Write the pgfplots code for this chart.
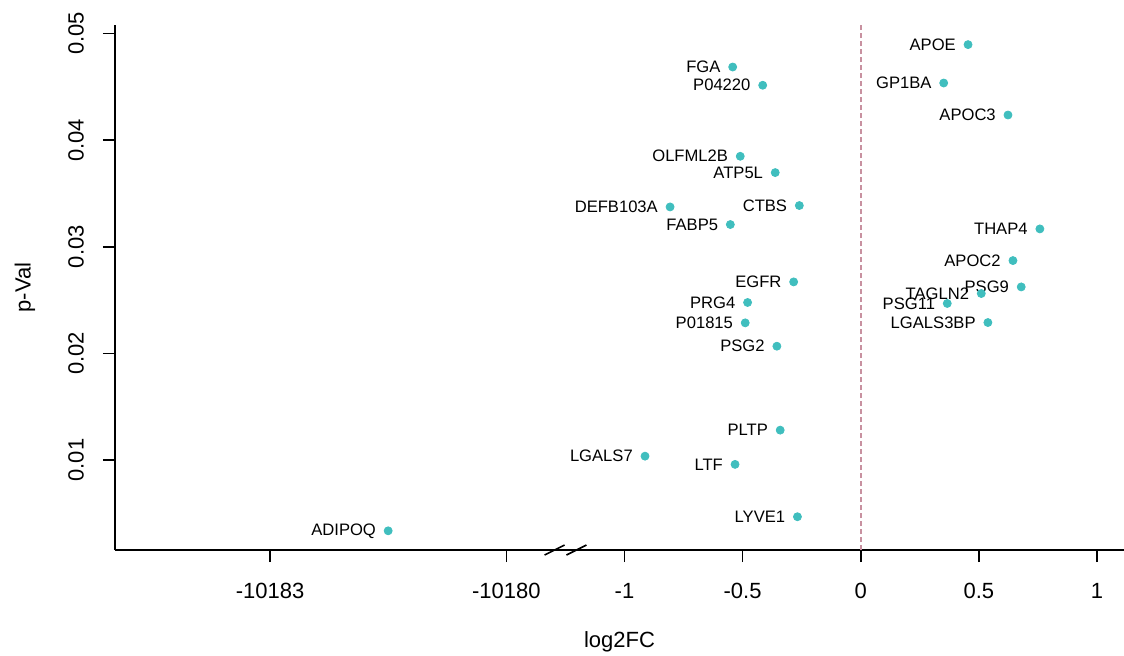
\documentclass[border=0pt]{standalone}
\usepackage{fontspec}
\setmainfont{Liberation Sans}
\usepackage{pgfplots}
\usepackage{pgfplotstable}
\pgfplotsset{compat=1.18}

\definecolor{dotcol}{RGB}{64,190,190}
\definecolor{zeroline}{RGB}{200,145,160}

% log2FC, p-value, gene
\pgfplotstableread{
x        p        name
-0.542   0.04686  FGA
-0.415   0.04515  P04220
-0.510   0.03849  OLFML2B
-0.362   0.03696  ATP5L
-0.807   0.03374  DEFB103A
-0.260   0.03387  CTBS
-0.552   0.03209  FABP5
-0.284   0.02671  EGFR
-0.479   0.02478  PRG4
-0.489   0.02287  P01815
-0.355   0.02068  PSG2
-0.341   0.01281  PLTP
-0.913   0.01037  LGALS7
-0.532   0.00960  LTF
-0.268   0.00469  LYVE1
-10181.5 0.00337  ADIPOQ
0.454    0.04896  APOE
0.351    0.04536  GP1BA
0.623    0.04236  APOC3
0.758    0.03168  THAP4
0.644    0.02871  APOC2
0.679    0.02624  PSG9
0.510    0.02562  TAGLN2
0.366    0.02469  PSG11
0.538    0.02290  LGALS3BP
}\genes

\begin{document}
\begin{tikzpicture}
\path[use as bounding box] (-57.5pt,-52.5pt) rectangle (504.5pt,275pt);
\begin{axis}[
    scale only axis,
    width=504.5pt, height=262.5pt,
    xmin=-3.156, xmax=1.114,
    ymin=0.00157, ymax=0.0508,
    axis lines*=left,
    axis line style={line width=0.8pt},
    clip=false,
    tick align=outside,
    major tick length=6pt,
    tick style={black, line width=0.8pt},
    xtick={-2.5,-1.5,-1,-0.5,0,0.5,1},
    xticklabels={-10183,-10180,-1,-0.5,0,0.5,1},
    ytick={0.01,0.02,0.03,0.04,0.05},
    yticklabels={0.01,0.02,0.03,0.04,0.05},
    scaled y ticks=false,
    minor tick num=0,
    tick label style={font=\fontsize{11}{13}\selectfont},
    yticklabel style={rotate=90, anchor=south},
    xticklabel shift=7pt,
    yticklabel shift=6pt,
    xlabel={log2FC}, ylabel={p-Val},
    label style={font=\fontsize{11}{13}\selectfont},
    x label style={at={(axis description cs:0.5,-0.175)}, anchor=center},
    y label style={at={(axis description cs:-0.0892,0.5)}, anchor=center},
]
\draw[zeroline, line width=0.8pt, dash pattern=on 2.5pt off 1.5pt]
    (axis cs:0,0.00157) -- (axis cs:0,0.0508);
\addplot[only marks, mark=*, mark size=2pt, color=dotcol,
    nodes near coords, point meta=explicit symbolic,
    every node near coord/.append style={anchor=east, text=black,
        font=\fontsize{8.3}{9}\selectfont, xshift=-2.6pt}]
    table[x expr={\thisrow{x}<-100 ? -1.5+(\thisrow{x}+10180)/3 : \thisrow{x}},
          y=p, meta=name] {\genes};
% axis break marks
\draw[black, line width=0.8pt]
    ([xshift=-5pt,yshift=-2.5pt]axis cs:-1.296,0.00157) -- ([xshift=5pt,yshift=2.5pt]axis cs:-1.296,0.00157);
\draw[black, line width=0.8pt]
    ([xshift=-5pt,yshift=-2.5pt]axis cs:-1.203,0.00157) -- ([xshift=5pt,yshift=2.5pt]axis cs:-1.203,0.00157);
\end{axis}
\end{tikzpicture}
\end{document}
